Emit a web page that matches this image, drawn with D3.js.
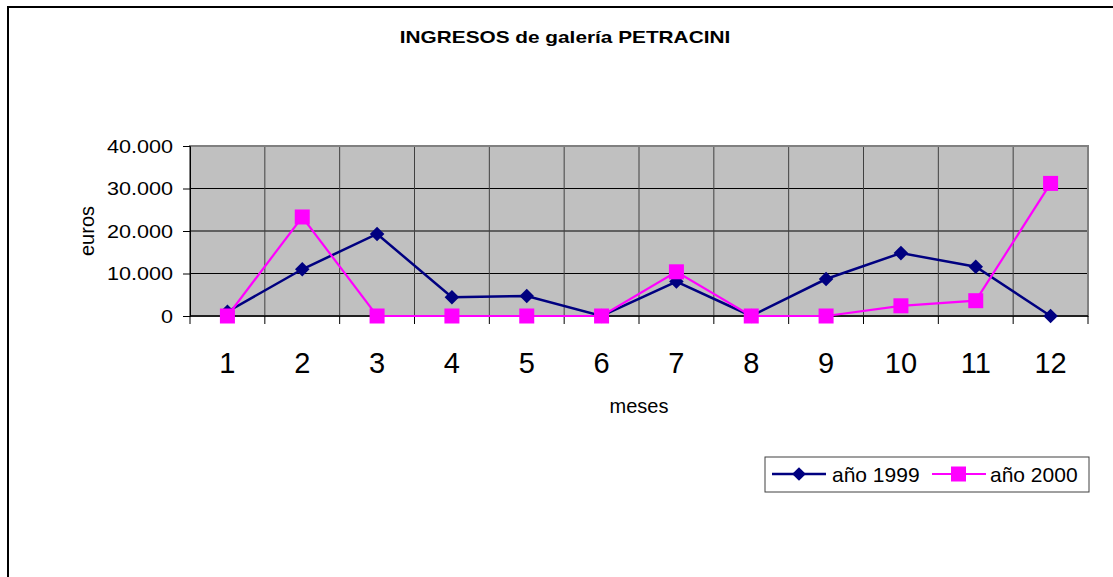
<!DOCTYPE html>
<html>
<head>
<meta charset="utf-8">
<script src="https://cdn.jsdelivr.net/npm/d3@7"></script>
<style>
  body { margin: 0; background: #fff; }
  svg { display: block; font-family: Arial, "Liberation Sans", sans-serif; }
</style>
</head>
<body>
<svg id="main-svg" width="1113" height="577"></svg>
<script>
// data
var meses = ["1", "2", "3", "4", "5", "6", "7", "8", "9", "10", "11", "12"];
var ano1999 = [1000, 11000, 19300, 4400, 4700, 0, 8100, 0, 8700, 14800, 11600, 0];
var ano2000 = [0, 23300, 0, 0, 0, 0, 10400, 0, 0, 2400, 3600, 31200];
var yTicks = [0, 10000, 20000, 30000, 40000];
var seriesNames = ["año 1999", "año 2000"];

var svg = d3.select("#main-svg");

var pLeft = 190, pRight = 1088, pTop = 146, pBottom = 316;

var x = d3.scaleBand().domain(meses).range([pLeft, pRight]);
var y = d3.scaleLinear().domain([0, 40000]).range([pBottom, pTop]);
var fmt = function(v) { return v == 0 ? "0" : d3.format(",")(v).replace(/,/g, "."); };

// outer frame
svg.append("rect")
   .attr("x", 8).attr("y", 7)
   .attr("width", 1200).attr("height", 700)
   .style("fill", "none").style("stroke", "#000").style("stroke-width", 2);

// title
svg.append("text")
   .attr("transform", "translate(565,43) scale(1.3,1)")
   .attr("text-anchor", "middle")
   .style("font-size", "16px").style("font-weight", "bold")
   .text("INGRESOS de galería PETRACINI");

// plot background
svg.append("rect")
   .attr("x", pLeft).attr("y", pTop)
   .attr("width", pRight - pLeft).attr("height", pBottom - pTop)
   .style("fill", "#c0c0c0");

// horizontal grid
svg.append("g").selectAll("line")
   .data(yTicks.slice(1)).enter().append("line")
   .attr("x1", pLeft).attr("x2", pRight)
   .attr("y1", function(d) { return y(d); })
   .attr("y2", function(d) { return y(d); })
   .style("stroke", "#000").style("stroke-width", 1);

// vertical grid at category boundaries
svg.append("g").selectAll("line")
   .data(meses.slice(1)).enter().append("line")
   .attr("x1", function(d) { return x(d); })
   .attr("x2", function(d) { return x(d); })
   .attr("y1", pTop).attr("y2", pBottom)
   .style("stroke", "#404040").style("stroke-width", 1);

// plot border
svg.append("rect")
   .attr("x", pLeft).attr("y", pTop)
   .attr("width", pRight - pLeft).attr("height", pBottom - pTop)
   .style("fill", "none").style("stroke", "#808080").style("stroke-width", 2);

// y axis
var yAxis = svg.append("g").attr("transform", "translate(" + pLeft + ",0)")
   .call(d3.axisLeft(y).tickValues(yTicks).tickSize(7).tickFormat(""));
yAxis.select(".domain").style("stroke", "#000");
yAxis.selectAll(".tick line").style("stroke", "#000");

svg.append("g").selectAll("text")
   .data(yTicks).enter().append("text")
   .attr("transform", function(d) { return "translate(173," + (y(d) + 6.5) + ") scale(1.2,1)"; })
   .attr("text-anchor", "end")
   .style("font-size", "18px")
   .text(fmt);

// x axis: ticks at boundaries
var bounds = [pLeft].concat(meses.map(function(d) { return x(d) + x.bandwidth(); }));
svg.append("line")
   .attr("x1", pLeft).attr("x2", pRight)
   .attr("y1", pBottom).attr("y2", pBottom)
   .style("stroke", "#000").style("stroke-width", 1.5);
svg.append("g").selectAll("line")
   .data(bounds).enter().append("line")
   .attr("x1", function(d) { return d; }).attr("x2", function(d) { return d; })
   .attr("y1", pBottom).attr("y2", pBottom + 8)
   .style("stroke", "#000");

svg.append("g").selectAll("text")
   .data(meses).enter().append("text")
   .attr("x", function(d) { return x(d) + x.bandwidth() / 2; })
   .attr("y", 373)
   .attr("text-anchor", "middle")
   .style("font-size", "29px")
   .text(function(d) { return d; });

// axis titles
svg.append("text")
   .attr("x", (pLeft + pRight) / 2).attr("y", 413)
   .attr("text-anchor", "middle")
   .style("font-size", "20px")
   .text("meses");

svg.append("text")
   .attr("transform", "translate(94," + ((pTop + pBottom) / 2) + ") rotate(-90)")
   .attr("text-anchor", "middle")
   .style("font-size", "20px")
   .text("euros");

// series
var cx = function(d, i) { return x(meses[i]) + x.bandwidth() / 2; };
var line = d3.line().x(cx).y(function(d) { return y(d); });

var diamond = d3.symbol().type(d3.symbolDiamond2).size(135);

svg.append("path").datum(ano1999)
   .attr("d", line)
   .style("fill", "none").style("stroke", "#000080").style("stroke-width", 2.5);
svg.append("g").selectAll("path")
   .data(ano1999).enter().append("path")
   .attr("d", diamond)
   .attr("transform", function(d, i) { return "translate(" + cx(d, i) + "," + y(d) + ")"; })
   .style("fill", "#000080");

svg.append("path").datum(ano2000)
   .attr("d", line)
   .style("fill", "none").style("stroke", "#ff00ff").style("stroke-width", 2.2);
svg.append("g").selectAll("rect")
   .data(ano2000).enter().append("rect")
   .attr("x", function(d, i) { return cx(d, i) - 7.5; })
   .attr("y", function(d) { return y(d) - 7.5; })
   .attr("width", 15).attr("height", 15)
   .style("fill", "#ff00ff");

// legend
var legend = svg.append("g");
legend.append("rect")
   .attr("x", 765).attr("y", 457)
   .attr("width", 324).attr("height", 35)
   .style("fill", "#fff").style("stroke", "#404040").style("stroke-width", 1);

legend.append("line")
   .attr("x1", 772).attr("x2", 826).attr("y1", 474).attr("y2", 474)
   .style("stroke", "#000080").style("stroke-width", 2.5);
legend.append("path")
   .attr("d", d3.symbol().type(d3.symbolDiamond2).size(120))
   .attr("transform", "translate(799,474)")
   .style("fill", "#000080");
legend.append("text")
   .attr("x", 832).attr("y", 482)
   .style("font-size", "21px")
   .text(seriesNames[0]);

legend.append("line")
   .attr("x1", 932).attr("x2", 986).attr("y1", 474).attr("y2", 474)
   .style("stroke", "#ff00ff").style("stroke-width", 2.2);
legend.append("rect")
   .attr("x", 951).attr("y", 466.5)
   .attr("width", 15).attr("height", 15)
   .style("fill", "#ff00ff");
legend.append("text")
   .attr("x", 990).attr("y", 482)
   .style("font-size", "21px")
   .text(seriesNames[1]);
</script>
</body>
</html>
